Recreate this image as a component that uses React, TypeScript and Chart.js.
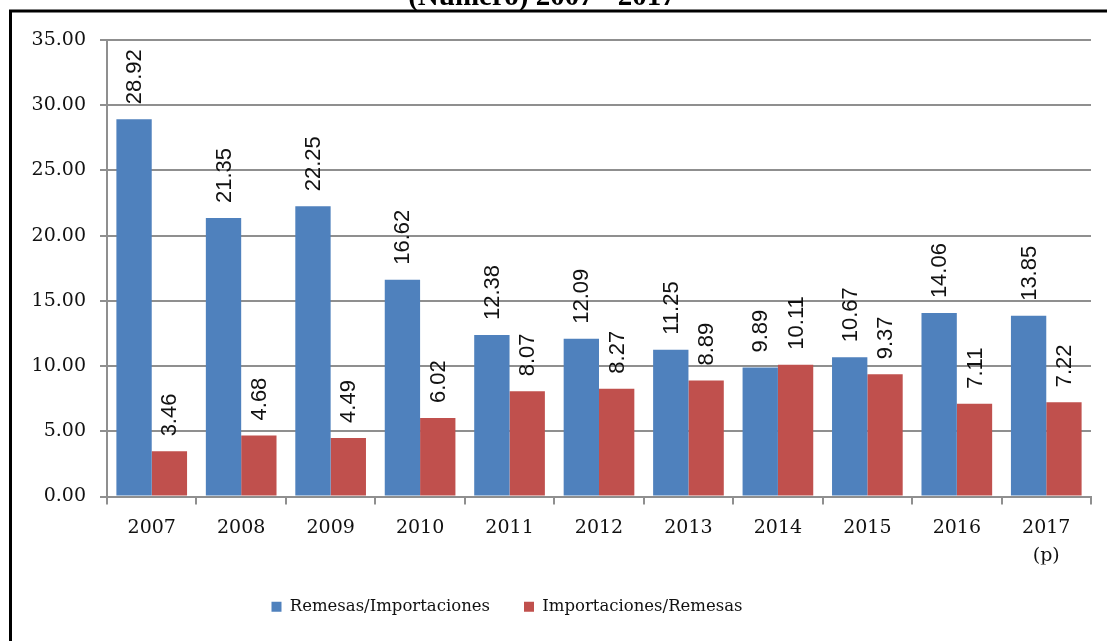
import React, { useEffect, useRef } from "react";
import { Chart, registerables } from "chart.js";

Chart.register(...registerables);

const categories: (string | string[])[] = ["2007", "2008", "2009", "2010", "2011", "2012", "2013", "2014", "2015", "2016", ["2017", "(p)"]];
const remesasImportaciones = [28.92, 21.35, 22.25, 16.62, 12.38, 12.09, 11.25, 9.89, 10.67, 14.06, 13.85];
const importacionesRemesas = [3.46, 4.68, 4.49, 6.02, 8.07, 8.27, 8.89, 10.11, 9.37, 7.11, 7.22];
const seriesNames = ["Remesas/Importaciones", "Importaciones/Remesas"];
const titleText = "(Número) 2007 - 2017";

const GRID = "#8f8f8f";

const frameAndTitle = {
  id: "frameAndTitle",
  afterDraw(chart: any) {
    const ctx = chart.ctx;
    ctx.save();
    ctx.strokeStyle = "#000";
    ctx.lineWidth = 3;
    ctx.strokeRect(10.5, 11, 1300, 1000);
    ctx.fillStyle = "#000";
    ctx.font = "bold 29px 'Liberation Serif', serif";
    ctx.textAlign = "center";
    ctx.textBaseline = "alphabetic";
    ctx.fillText(titleText, 542, 5);
    ctx.restore();
  },
};

const rotatedLabels = {
  id: "rotatedLabels",
  afterDatasetsDraw(chart: any) {
    const ctx = chart.ctx;
    ctx.save();
    ctx.fillStyle = "#111";
    ctx.font = "22px 'Liberation Sans', Arial, sans-serif";
    ctx.textAlign = "left";
    ctx.textBaseline = "middle";
    chart.data.datasets.forEach((ds: any, di: number) => {
      const meta = chart.getDatasetMeta(di);
      meta.data.forEach((el: any, i: number) => {
        const v = ds.data[i] as number;
        ctx.save();
        ctx.translate(el.x, el.y - 15);
        ctx.rotate(-Math.PI / 2);
        ctx.fillText(v.toFixed(2), 0, 1);
        ctx.restore();
      });
    });
    ctx.restore();
  },
};

export default function App() {
  const ref = useRef<HTMLCanvasElement | null>(null);
  useEffect(() => {
    if (!ref.current) return;
    const chart = new Chart(ref.current, {
      type: "bar",
      data: {
        labels: categories,
        datasets: [
          {
            label: seriesNames[0],
            data: remesasImportaciones,
            backgroundColor: "#4F81BD",
            categoryPercentage: 0.79,
            barPercentage: 1.0,
          },
          {
            label: seriesNames[1],
            data: importacionesRemesas,
            backgroundColor: "#C0504D",
            categoryPercentage: 0.79,
            barPercentage: 1.0,
          },
        ],
      },
      options: {
        animation: false,
        responsive: false,
        layout: { padding: { left: -77, right: 16, top: 40, bottom: 16 } },
        plugins: {
          title: { display: false },
          tooltip: { enabled: false },
          legend: {
            position: "bottom",
            labels: {
              boxWidth: 10,
              boxHeight: 10,
              padding: 34,
              color: "#111",
              font: { family: "'DejaVu Serif', serif", size: 16.5 },
            },
          },
        },
        scales: {
          x: {
            offset: true,
            grid: { display: true, drawOnChartArea: false, drawTicks: true, tickLength: 8, color: GRID, lineWidth: 2 },
            border: { display: true, color: GRID, width: 2 },
            ticks: {
              color: "#111",
              padding: 9,
              maxRotation: 0,
              autoSkip: false,
              font: { family: "'DejaVu Serif', serif", size: 19, lineHeight: 1.5 },
            },
            afterFit(scale: any) {
              scale.height = 68;
            },
          },
          y: {
            min: 0,
            max: 35,
            ticks: {
              stepSize: 5,
              color: "#111",
              padding: 14,
              font: { family: "'DejaVu Serif', serif", size: 19 },
              callback: (v: any) => Number(v).toFixed(2),
            },
            grid: { color: GRID, lineWidth: 2, drawTicks: true, tickLength: 7 },
            border: { display: true, color: GRID, width: 2 },
            afterFit(scale: any) {
              scale.width = 184;
            },
          },
        },
      },
      plugins: [rotatedLabels, frameAndTitle],
    });
    return () => chart.destroy();
  }, []);
  return (
    <div style={{ position: "absolute", left: 0, top: 0, width: 1107, height: 641, background: "#fff" }}>
      <canvas ref={ref} width={1107} height={641} style={{ display: "block" }} />
    </div>
  );
}
